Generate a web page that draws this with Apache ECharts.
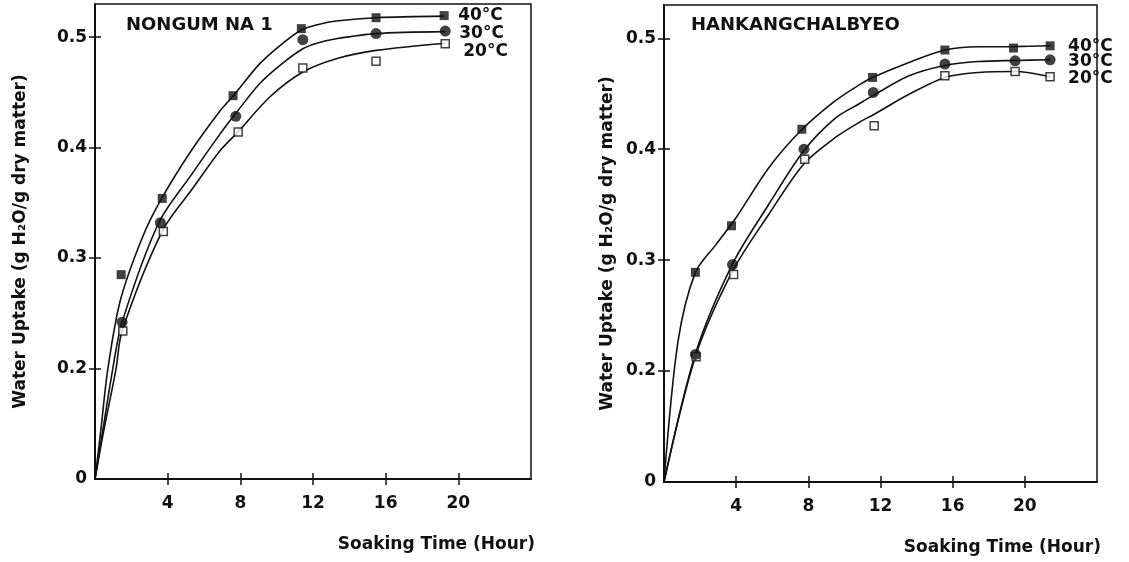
<!DOCTYPE html>
<html>
<head>
<meta charset="utf-8">
<script src="https://cdn.jsdelivr.net/npm/echarts@6/dist/echarts.min.js"></script>
<style>
  html, body { margin: 0; padding: 0; background: #fff; }
  #chart { width: 1129px; height: 562px; }
</style>
</head>
<body>
<div id="chart"></div>
<script>
// axis ticks / labels
var hourTicks = [4, 8, 12, 16, 20];
var uptakeLabels = [0, 0.2, 0.3, 0.4, 0.5];
var uptakeTicks = [0.2, 0.3, 0.4, 0.5];
var tempNames = ['40°C', '30°C', '20°C'];
var varieties = ['NONGUM NA 1', 'HANKANGCHALBYEO'];

// NONGUM NA 1 : measured points [hour, g H2O / g dry matter]
var nongum40 = [[1.44, 0.285], [3.70, 0.354], [7.60, 0.447], [11.36, 0.5077], [15.47, 0.5176], [19.22, 0.5195]];
var nongum30 = [[1.49, 0.242], [3.60, 0.332], [7.75, 0.4283], [11.44, 0.4977], [15.47, 0.5032], [19.28, 0.5055]];
var nongum20 = [[1.53, 0.234], [3.76, 0.324], [7.88, 0.4141], [11.44, 0.472], [15.47, 0.4781], [19.28, 0.4941]];
// NONGUM NA 1 : fitted curves
var nongumFit40 = [[0, 0], [0.30, 0.041], [0.71, 0.20], [1.40, 0.262], [2.59, 0.318], [3.60, 0.352], [5.33, 0.398], [6.87, 0.433], [7.62, 0.447], [9.07, 0.476], [10.3, 0.494], [11.36, 0.5065], [12.3, 0.5115], [13.28, 0.5146], [15.47, 0.5176], [19.22, 0.519]];
var nongumFit30 = [[0, 0], [0.40, 0.041], [0.98, 0.20], [1.49, 0.242], [3.51, 0.332], [5.33, 0.376], [6.87, 0.412], [7.75, 0.431], [9.07, 0.458], [10.3, 0.476], [11.44, 0.4895], [12.3, 0.495], [13.28, 0.4986], [15.47, 0.5032], [19.28, 0.505]];
var nongumFit20 = [[0, 0], [0.45, 0.041], [1.16, 0.20], [1.49, 0.234], [3.69, 0.324], [5.33, 0.362], [6.87, 0.397], [7.86, 0.414], [9.62, 0.4458], [11.44, 0.4684], [13.28, 0.4805], [15.47, 0.488], [19.28, 0.4945]];

// HANKANGCHALBYEO : measured points
var hankang40 = [[1.74, 0.289], [3.74, 0.331], [7.64, 0.418], [11.56, 0.4647], [15.57, 0.4894], [19.37, 0.4912], [21.4, 0.4932]];
var hankang30 = [[1.74, 0.215], [3.80, 0.296], [7.76, 0.400], [11.60, 0.4512], [15.57, 0.4768], [19.46, 0.4797], [21.4, 0.4806]];
var hankang20 = [[1.78, 0.213], [3.86, 0.287], [7.80, 0.391], [11.65, 0.4212], [15.57, 0.4662], [19.46, 0.4701], [21.4, 0.4653]];
// HANKANGCHALBYEO : fitted curves
var hankangFit40 = [[0, 0], [0.77, 0.226], [1.74, 0.289], [2.88, 0.314], [3.98, 0.338], [5.82, 0.3836], [7.62, 0.4173], [9.5, 0.4437], [10.82, 0.458], [11.56, 0.4647], [13.58, 0.4782], [15.57, 0.4894], [17.44, 0.4923], [19.37, 0.4925], [21.4, 0.4932]];
var hankangFit30 = [[0, 0], [1.74, 0.2155], [3.80, 0.2966], [5.82, 0.3506], [7.75, 0.3986], [9.5, 0.428], [10.82, 0.441], [11.6, 0.4485], [13.58, 0.4662], [15.57, 0.4755], [17.44, 0.479], [19.46, 0.48], [21.4, 0.4806]];
var hankangFit20 = [[0, 0], [1.74, 0.213], [3.80, 0.290], [5.82, 0.3416], [7.75, 0.3867], [9.5, 0.4106], [10.82, 0.4242], [11.65, 0.4315], [13.58, 0.4495], [15.57, 0.4647], [17.44, 0.4692], [19.46, 0.4701], [21.4, 0.4653]];

var INK = '#111';
var FONT = 'DejaVu Sans';

var chart = echarts.init(document.getElementById('chart'));

var grids = [
  { left: 95, top: 4, width: 436, height: 475 },
  { left: 664, top: 5, width: 433, height: 477 }
];

function xMain(gi) {
  return {
    type: 'value', gridIndex: gi, min: 0, max: 24, position: 'bottom',
    name: 'Soaking Time (Hour)', nameLocation: 'end', nameGap: 4,
    nameTextStyle: { align: 'right', verticalAlign: 'top', padding: [57, 0, 0, 0],
      fontFamily: FONT, fontWeight: 'bold', fontSize: 17, color: INK },
    axisLine: { show: true, onZero: false, lineStyle: { color: INK, width: 2 } },
    axisTick: { show: true, length: 6, customValues: hourTicks, lineStyle: { color: INK, width: 1.5 } },
    axisLabel: { show: true, customValues: hourTicks, margin: 16, fontFamily: FONT, fontWeight: 'bold', fontSize: 17, color: INK },
    splitLine: { show: false }
  };
}
function xInner(gi) {
  return {
    type: 'value', gridIndex: gi, min: 0, max: 24, position: 'bottom',
    axisLine: { show: false },
    axisTick: { show: true, inside: true, length: 6, customValues: hourTicks, lineStyle: { color: INK, width: 1.5 } },
    axisLabel: { show: false },
    splitLine: { show: false }
  };
}
function yBase(gi) {
  return {
    type: 'value', gridIndex: gi, min: 0, max: 0.53, position: 'left',
    breaks: [{ start: 0.1, end: 0.2, gap: 0 }],
    breakArea: { show: false },
    splitLine: { show: false }
  };
}
function yMain(gi, gap) {
  var a = yBase(gi);
  a.name = 'Water Uptake (g H\u2082O/g dry matter)';
  a.nameLocation = 'middle';
  a.nameGap = gap;
  a.nameTextStyle = { fontFamily: FONT, fontWeight: 'bold', fontSize: 17, color: INK };
  a.axisLine = { show: true, onZero: false, lineStyle: { color: INK, width: 2 } };
  a.axisTick = { show: true, length: 6, customValues: uptakeTicks, lineStyle: { color: INK, width: 1.5 } };
  a.axisLabel = { show: true, customValues: uptakeLabels, margin: 8, fontFamily: FONT, fontWeight: 'bold', fontSize: 17, color: INK,
    formatter: function (v) { return v === 0 ? '0' : v.toFixed(1); } };
  return a;
}
function yInner(gi) {
  var a = yBase(gi);
  a.axisLine = { show: false };
  a.axisTick = { show: true, inside: true, length: 6, customValues: uptakeTicks, lineStyle: { color: INK, width: 1.5 } };
  a.axisLabel = { show: false };
  return a;
}

function fitLine(name, gi, data, offset) {
  return {
    type: 'line', name: name, xAxisIndex: gi, yAxisIndex: gi, data: data,
    showSymbol: false, smooth: 0.3, z: 2,
    lineStyle: { color: INK, width: 1.6 },
    endLabel: { show: true, formatter: '{a}', distance: 0, offset: offset,
      fontFamily: FONT, fontWeight: 'bold', fontSize: 17, color: INK }
  };
}
function marks(gi, data, kind) {
  var s = { type: 'scatter', xAxisIndex: gi, yAxisIndex: gi, data: data, z: 3 };
  if (kind === 40) { s.symbol = 'rect'; s.symbolSize = 9; s.itemStyle = { color: INK }; }
  if (kind === 30) { s.symbol = 'circle'; s.symbolSize = 11; s.itemStyle = { color: INK }; }
  if (kind === 20) { s.symbol = 'rect'; s.symbolSize = 8; s.z = 2.5; s.itemStyle = { color: '#fff', borderColor: INK, borderWidth: 1.5 }; }
  return s;
}

var option = {
  animation: false,
  backgroundColor: '#fff',
  textStyle: { fontFamily: FONT, color: INK },
  grid: grids.map(function (g) {
    return { left: g.left, top: g.top, width: g.width, height: g.height, show: true,
      borderColor: INK, borderWidth: 1.5, backgroundColor: 'transparent' };
  }),
  title: [
    { text: varieties[0], left: 121, top: 11, textStyle: { fontFamily: FONT, fontWeight: 'bold', fontSize: 18, color: INK } },
    { text: varieties[1], left: 686, top: 11, textStyle: { fontFamily: FONT, fontWeight: 'bold', fontSize: 18, color: INK } }
  ],
  xAxis: [xMain(0), xMain(1), xInner(0), xInner(1)],
  yAxis: [yMain(0, 66), yMain(1, 48), yInner(0), yInner(1)],
  series: [
    fitLine(tempNames[0], 0, nongumFit40, [14, -1]),
    fitLine(tempNames[1], 0, nongumFit30, [14, 2]),
    fitLine(tempNames[2], 0, nongumFit20, [18, 8]),
    marks(0, nongum40, 40), marks(0, nongum20, 20), marks(0, nongum30, 30),
    fitLine(tempNames[0], 1, hankangFit40, [18, 1]),
    fitLine(tempNames[1], 1, hankangFit30, [18, 2]),
    fitLine(tempNames[2], 1, hankangFit20, [18, 2]),
    marks(1, hankang40, 40), marks(1, hankang20, 20), marks(1, hankang30, 30)
  ]
};

chart.setOption(option);
</script>
</body>
</html>
